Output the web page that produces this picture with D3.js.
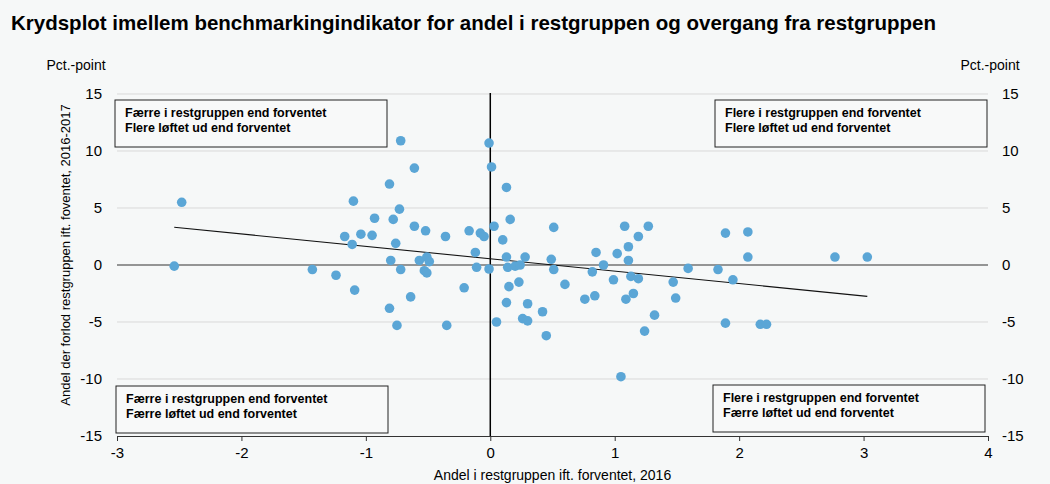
<!DOCTYPE html>
<html lang="da">
<head>
  <meta charset="utf-8">
  <title>Krydsplot</title>
  <script src="https://cdn.jsdelivr.net/npm/d3@7"></script>
  <style>
    body { margin: 0; background: #f6f8f8; }
    svg text { font-family: "Liberation Sans", Arial, sans-serif; fill: #000; }
    .grid line { stroke: #d9d9d9; }
    .box rect { fill: #f8f9f9; stroke: #222; }
    .box text { font-weight: bold; font-size: 12.5px; }
  </style>
</head>
<body>
<script>
// andel i restgruppen ift. forventet (x) og andel der forlod restgruppen (y)
var xVals = [-0.72, -0.01, -0.61, 0.01, -0.81, 0.13, -2.48, -1.10, -0.73, -0.93,
  -0.78, 0.16, -0.61, -0.52, -0.36, -0.17, -0.08, -0.05, 0.03, 0.10,
  0.51, 1.08, 1.27, 1.19, 1.11, 0.85, 1.02, 1.11, -1.17, -1.04,
  -0.95, -1.11, -0.76, -0.12, -0.80, -0.57, -0.51, -0.49, 0.13, 0.28,
  0.49, 0.91, -2.54, -0.72, -1.43, -0.53, -0.51, -0.11, -0.01, 0.14,
  0.20, 0.24, 0.51, 0.82, 1.13, 1.19, 0.99, 1.47, 0.23, 0.15,
  0.60, -0.21, -0.64, 0.76, 0.84, 1.09, 1.15, 1.49, -0.81, 0.13,
  0.30, 0.42, 0.26, 0.30, 0.05, -0.75, -0.35, 1.32, 1.24, 0.45,
  1.05, -1.24, -1.09, 1.89, 2.07, 2.07, 2.77, 3.03, 1.59, 1.83,
  1.95, 1.89, 2.17, 2.22];
var yVals = [10.9, 10.7, 8.5, 8.6, 7.1, 6.8, 5.5, 5.6, 4.9, 4.1,
  4.0, 4.0, 3.4, 3.0, 2.5, 3.0, 2.8, 2.5, 3.4, 2.2,
  3.3, 3.4, 3.4, 2.5, 1.6, 1.1, 1.0, 0.4, 2.5, 2.7,
  2.6, 1.8, 1.9, 1.1, 0.4, 0.4, 0.7, 0.3, 0.7, 0.7,
  0.5, 0.0, -0.1, -0.4, -0.4, -0.5, -0.7, -0.2, -0.35, -0.2,
  -0.1, 0.0, -0.4, -0.6, -1.0, -1.2, -1.3, -1.5, -1.5, -1.9,
  -1.7, -2.0, -2.8, -3.0, -2.7, -3.0, -2.5, -2.9, -3.8, -3.3,
  -3.4, -4.1, -4.7, -4.9, -5.0, -5.3, -5.3, -4.4, -5.8, -6.2,
  -9.8, -0.9, -2.2, 2.8, 2.9, 0.7, 0.7, 0.7, -0.3, -0.4,
  -1.3, -5.1, -5.2, -5.2];

// lineær tendenslinje
var trendX = [-2.54, 3.03];
var trendY = [3.31, -2.75];

var xTicks = [-3, -2, -1, 0, 1, 2, 3, 4];
var yTicks = [15, 10, 5, 0, -5, -10, -15];

var boxTexts = [
  ["Færre i restgruppen end forventet", "Flere løftet ud end forventet"],
  ["Flere i restgruppen end forventet", "Flere løftet ud end forventet"],
  ["Færre i restgruppen end forventet", "Færre løftet ud end forventet"],
  ["Flere i restgruppen end forventet", "Færre løftet ud end forventet"]
];

var width = 1050, height = 484;
var pLeft = 117, pRight = 988, pTop = 94, pBottom = 436;

var svg = d3.select("body").append("svg")
  .attr("width", width)
  .attr("height", height);

var x = d3.scaleLinear().domain([-3, 4]).range([pLeft, pRight]);
var y = d3.scaleLinear().domain([-15, 15]).range([pBottom, pTop]);

// plain hyphen like the original, not the unicode minus
var fmt = function(d) { return String(d); };

// title
svg.append("text")
  .attr("x", 11).attr("y", 30)
  .style("font-size", "20.5px").style("font-weight", "bold")
  .text("Krydsplot imellem benchmarkingindikator for andel i restgruppen og overgang fra restgruppen");

svg.append("text").attr("x", 76).attr("y", 70)
  .attr("text-anchor", "middle").style("font-size", "14px").text("Pct.-point");
svg.append("text").attr("x", 990).attr("y", 70)
  .attr("text-anchor", "middle").style("font-size", "14px").text("Pct.-point");

// gridlines
svg.append("g").attr("class", "grid")
  .selectAll("line")
  .data(yTicks.filter(function(d) { return d != 0 && d != -15; }))
  .enter().append("line")
  .attr("x1", pLeft).attr("x2", pRight)
  .attr("y1", function(d) { return y(d); })
  .attr("y2", function(d) { return y(d); });

// y labels both sides
var yl = svg.append("g")
  .attr("transform", "translate(" + (pLeft - 15) + ",0)")
  .call(d3.axisLeft(y).tickValues(yTicks).tickSize(0).tickPadding(0).tickFormat(fmt));
var yr = svg.append("g")
  .attr("transform", "translate(" + (pRight + 14) + ",0)")
  .call(d3.axisRight(y).tickValues(yTicks).tickSize(0).tickPadding(0).tickFormat(fmt));
[yl, yr].forEach(function(g) {
  g.select(".domain").remove();
  g.selectAll("text").style("font-size", "15px").style("font-family", "Liberation Sans, Arial, sans-serif");
});

// x axis at -15
var xa = svg.append("g")
  .attr("transform", "translate(0," + pBottom + ")")
  .call(d3.axisBottom(x).tickValues(xTicks).tickSize(5).tickSizeOuter(0).tickPadding(6)
    .tickFormat(fmt));
xa.select(".domain").attr("stroke", "#333");
xa.selectAll(".tick line").attr("stroke", "#333");
xa.selectAll("text").style("font-size", "15px").style("font-family", "Liberation Sans, Arial, sans-serif");

// zero lines
svg.append("line")
  .attr("x1", pLeft).attr("x2", pRight)
  .attr("y1", y(0)).attr("y2", y(0))
  .attr("stroke", "#333").attr("stroke-width", 1.2);
svg.append("line")
  .attr("x1", x(0)).attr("x2", x(0))
  .attr("y1", pTop - 1).attr("y2", pBottom)
  .attr("stroke", "#000").attr("stroke-width", 1.5);

// axis titles
svg.append("text")
  .attr("x", (pLeft + pRight) / 2).attr("y", 480)
  .attr("text-anchor", "middle").style("font-size", "14px")
  .text("Andel i restgruppen ift. forventet, 2016");
svg.append("text")
  .attr("transform", "translate(70," + (y(0) - 10) + ") rotate(-90)")
  .attr("text-anchor", "middle").style("font-size", "13px")
  .text("Andel der forlod restgruppen ift. foventet, 2016-2017");

// boxes
var boxPos = [[115, 100], [715, 100], [116, 386], [713, 385]];
var boxes = svg.selectAll(".box")
  .data(boxTexts)
  .enter().append("g")
  .attr("class", "box")
  .attr("transform", function(d, i) { return "translate(" + boxPos[i][0] + "," + boxPos[i][1] + ")"; });
boxes.append("rect")
  .attr("width", 272).attr("height", 47);
boxes.each(function(d) {
  var g = d3.select(this);
  d.forEach(function(t, j) {
    g.append("text").attr("x", 10).attr("y", 17 + j * 15).text(t);
  });
});

// regression line
svg.append("line")
  .attr("x1", x(trendX[0])).attr("y1", y(trendY[0]))
  .attr("x2", x(trendX[1])).attr("y2", y(trendY[1]))
  .attr("stroke", "#111").attr("stroke-width", 1.1);

// points
svg.append("g")
  .selectAll("circle")
  .data(xVals)
  .enter().append("circle")
  .attr("cx", function(d) { return x(d); })
  .attr("cy", function(d, i) { return y(yVals[i]); })
  .attr("r", 4.8)
  .attr("fill", "#5ba6d6");
</script>
</body>
</html>
